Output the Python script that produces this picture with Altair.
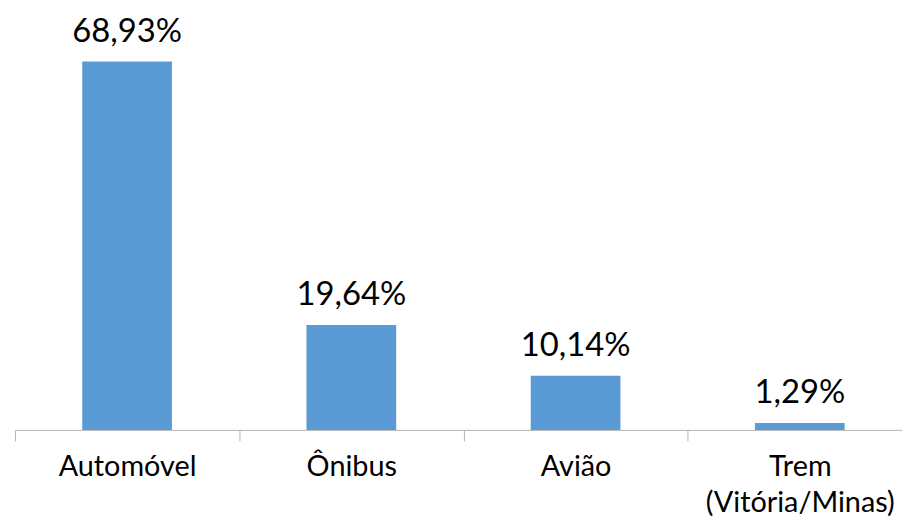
import altair as alt
import pandas as pd

categories = ["Automóvel", "Ônibus", "Avião", "Trem (Vitória/Minas)"]
values = [68.93, 19.64, 10.14, 1.29]

df = pd.DataFrame({"cat": categories, "val": values})

FONT = "Lato"

base = alt.Chart(df).encode(
    x=alt.X(
        "cat:N",
        sort=categories,
        scale=alt.Scale(paddingInner=0, paddingOuter=0, range=[0, 903]),
        axis=alt.Axis(
            title=None,
            labelAngle=0,
            tickBand="extent",
            tickSize=11,
            tickColor="#b3b3b3",
            domainColor="#b3b3b3",
            labelFont=FONT,
            labelFontSize=29,
            labelColor="#000000",
            labelPadding=12,
            labelLineHeight=36,
            labelBaseline="top",
            labelLimit=0,
            labelExpr="datum.label == 'Trem (Vitória/Minas)' ? ['Trem', '(Vitória/Minas)'] : datum.label",
        ),
    ),
    y=alt.Y("val:Q", scale=alt.Scale(domain=[0, 78.6], nice=False), axis=None),
)

bars = base.mark_bar(color="#5B9BD5", width=alt.RelativeBandSize(0.4))

labels = base.transform_calculate(
    lab="replace(format(datum.val, '.2f'), '.', ',') + '%'"
).mark_text(
    font=FONT, fontSize=33, color="#000000", baseline="alphabetic", dy=-20
).encode(text="lab:N")

chart = (
    (bars + labels)
    .properties(
        width=893,
        height=423,
        autosize=alt.AutoSizeParams(type="none"),
        padding={"left": 7, "top": 0, "right": 0, "bottom": 88},
    )
    .configure_view(stroke=None)
)

chart.save("out.html", embed_options={"renderer": "svg", "actions": False})
